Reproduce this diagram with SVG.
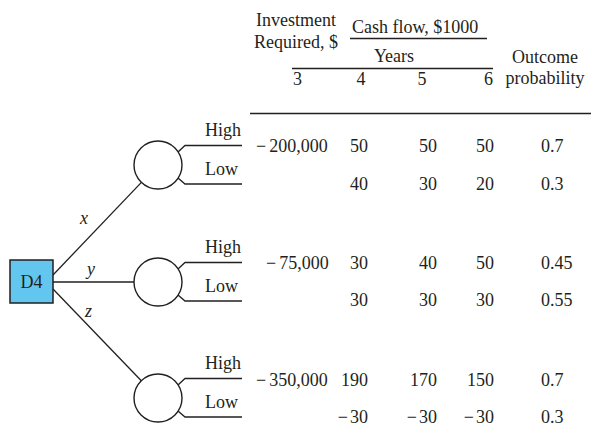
<svg xmlns="http://www.w3.org/2000/svg" width="591" height="426" viewBox="0 0 591 426">
<style>
text{font-family:"Liberation Serif","Times New Roman",serif;font-size:18px;fill:#231f20}
.it{font-style:italic}
.ln{stroke:#231f20;stroke-width:1.3;fill:none}
.c{fill:#fff;stroke:#231f20;stroke-width:1.4}
.e{text-anchor:end}
.m{text-anchor:middle}
</style>
<rect width="591" height="426" fill="#fff"/>
<g id="header">
<text x="296" y="26" class="m">Investment</text>
<text x="296" y="48" class="m">Required, $</text>
<text x="352" y="33">Cash flow, $1000</text>
<line class="ln" x1="350" y1="38.5" x2="487" y2="38.5"/>
<text x="394" y="62" class="m">Years</text>
<line class="ln" x1="292" y1="68.5" x2="493" y2="68.5"/>
<text x="293" y="85">3</text>
<text x="361" y="85" class="m">4</text>
<text x="422" y="85" class="m">5</text>
<text x="493" y="85" class="e">6</text>
<text x="545" y="63" class="m">Outcome</text>
<text x="545" y="84" class="m">probability</text>
<line class="ln" x1="250" y1="113.5" x2="591" y2="113.5"/>
</g>
<g id="connectors">
<line class="ln" x1="53" y1="275" x2="141.4" y2="182.4"/>
<line class="ln" x1="53" y1="282" x2="134" y2="282"/>
<line class="ln" x1="53" y1="289" x2="141.3" y2="380.7"/>
<polyline class="ln" points="178,152 185,145.5 242,145.5"/>
<polyline class="ln" points="178,178 185,184 242,184"/>
<polyline class="ln" points="178,269 185,262.5 242,262.5"/>
<polyline class="ln" points="178,295 185,301 242,301"/>
<polyline class="ln" points="178,385 185,378.5 242,378.5"/>
<polyline class="ln" points="178,411 185,417 242,417"/>
<text x="80" y="224" class="it">x</text>
<text x="87" y="275" class="it">y</text>
<text x="85" y="317" class="it">z</text>
<text x="241" y="136" class="e">High</text>
<text x="205" y="175">Low</text>
<text x="241" y="253" class="e">High</text>
<text x="205" y="292">Low</text>
<text x="241" y="369" class="e">High</text>
<text x="205" y="408">Low</text>
</g>
<g id="D4">
<rect x="10" y="260" width="43" height="43" fill="#62c6ee" stroke="#231f20" stroke-width="1.5"/>
<text x="31.5" y="287.5" class="m">D4</text>
</g>
<g id="chance1"><circle class="c" cx="158" cy="165" r="24"/></g>
<g id="chance2"><circle class="c" cx="158" cy="282" r="24"/></g>
<g id="chance3"><circle class="c" cx="158" cy="398" r="24"/></g>
<g id="table">
<text x="256" y="152">−<tspan dx="3">200,000</tspan></text>
<text x="368" y="152" class="e">50</text>
<text x="437" y="152" class="e">50</text>
<text x="494" y="152" class="e">50</text>
<text x="541" y="152">0.7</text>
<text x="368" y="190" class="e">40</text>
<text x="437" y="190" class="e">30</text>
<text x="494" y="190" class="e">20</text>
<text x="541" y="190">0.3</text>
<text x="266" y="269">−<tspan dx="3">75,000</tspan></text>
<text x="368" y="269" class="e">30</text>
<text x="437" y="269" class="e">40</text>
<text x="494" y="269" class="e">50</text>
<text x="541" y="269">0.45</text>
<text x="368" y="306" class="e">30</text>
<text x="437" y="306" class="e">30</text>
<text x="494" y="306" class="e">30</text>
<text x="541" y="306">0.55</text>
<text x="256" y="386">−<tspan dx="3">350,000</tspan></text>
<text x="368" y="386" class="e">190</text>
<text x="437" y="386" class="e">170</text>
<text x="494" y="386" class="e">150</text>
<text x="541" y="386">0.7</text>
<text x="368" y="423" class="e">−<tspan dx="2">30</tspan></text>
<text x="437" y="423" class="e">−<tspan dx="2">30</tspan></text>
<text x="494" y="423" class="e">−<tspan dx="2">30</tspan></text>
<text x="541" y="423">0.3</text>
</g>
</svg>
